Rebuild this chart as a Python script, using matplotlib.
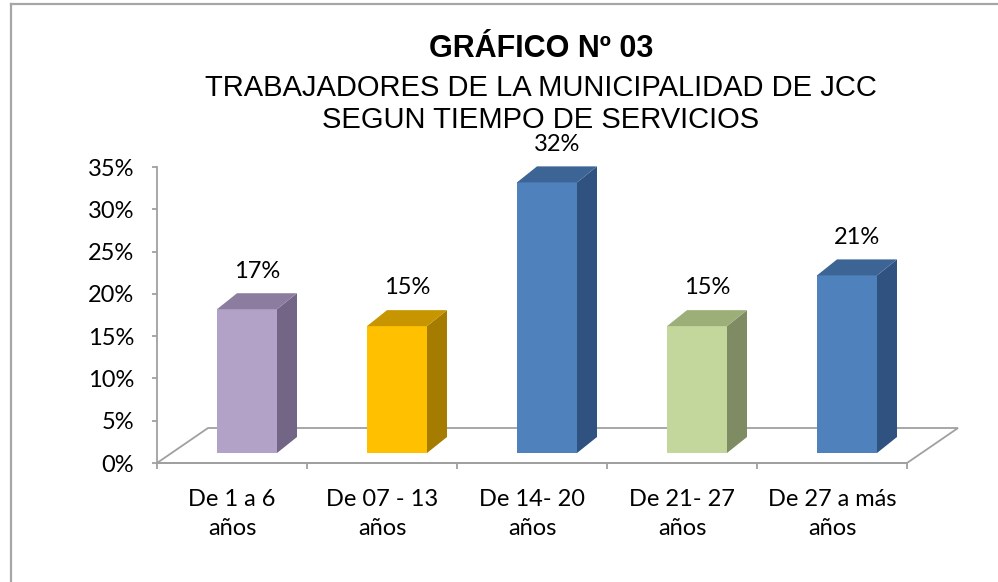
import matplotlib
matplotlib.use("Agg")
import matplotlib.pyplot as plt
from matplotlib.patches import Polygon
from matplotlib.lines import Line2D
from matplotlib.ticker import PercentFormatter, FixedLocator, NullFormatter

# datos del gráfico
categorias = ["De 1 a 6\naños", "De 07 - 13\naños", "De 14- 20\naños",
              "De 21- 27\naños", "De 27 a más\naños"]
valores = [0.17, 0.15, 0.32, 0.15, 0.21]
etiquetas = ["17%", "15%", "32%", "15%", "21%"]

# colores: cara frontal, lateral y superior
frente = ["#B3A2C7", "#FFC000", "#4F81BD", "#C3D69B", "#4F81BD"]
lateral = ["#726586", "#A67C00", "#2F5281", "#7F8C63", "#2F5281"]
superior = ["#8C7CA0", "#C69500", "#3C6595", "#9CAF78", "#3C6595"]

fuente = "Lato"
gris = "#A0A0A0"

fig = plt.figure(figsize=(9.98, 5.82), dpi=100)
ax = fig.add_axes([157 / 998, 1 - 463 / 582, 750 / 998, 296 / 582])
ax.set_xlim(-0.5, 4.5)
ax.set_ylim(0, 0.35)

# profundidad en unidades de datos
px_x = 5 / 750          # unidades x por pixel
px_y = 0.35 / 296       # unidades y por pixel
piso_dx, piso_dy = 51 * px_x, 35 * px_y
barra_dx, barra_dy = 20 * px_x, 16 * px_y
desp_x, desp_y = 15 * px_x, 10 * px_y
ancho = 60 * px_x

# piso
piso = Polygon([(-0.5, 0), (4.5, 0), (4.5 + piso_dx, piso_dy), (-0.5 + piso_dx, piso_dy)],
               closed=True, facecolor="none", edgecolor=gris, lw=1.3,
               clip_on=False, zorder=1)
ax.add_patch(piso)

# barras 3D
xs = [i + desp_x for i in range(len(valores))]
ax.bar(xs, valores, width=ancho, bottom=desp_y, color=frente, zorder=3, linewidth=0)
for i, v in enumerate(valores):
    x0 = xs[i] - ancho / 2
    x1 = xs[i] + ancho / 2
    y0 = desp_y
    y1 = desp_y + v
    ax.add_patch(Polygon([(x1, y0), (x1 + barra_dx, y0 + barra_dy),
                          (x1 + barra_dx, y1 + barra_dy), (x1, y1)],
                         closed=True, facecolor=lateral[i], lw=0, zorder=3, clip_on=False))
    ax.add_patch(Polygon([(x0, y1), (x1, y1), (x1 + barra_dx, y1 + barra_dy),
                          (x0 + barra_dx, y1 + barra_dy)],
                         closed=True, facecolor=superior[i], lw=0, zorder=3, clip_on=False))
    ax.annotate(etiquetas[i], (xs[i] + barra_dx / 2, y1 + barra_dy),
                xytext=(0, 16), textcoords="offset points", ha="center", va="center",
                fontsize=17, family=fuente, color="black", annotation_clip=False)

# ejes
for lado in ["top", "right"]:
    ax.spines[lado].set_visible(False)
ax.spines["left"].set_color(gris)
ax.spines["bottom"].set_color(gris)
ax.spines["left"].set_linewidth(1.3)
ax.spines["bottom"].set_linewidth(1.3)
ax.yaxis.set_major_formatter(PercentFormatter(xmax=1, decimals=0))
ax.set_yticks([0, 0.05, 0.10, 0.15, 0.20, 0.25, 0.30, 0.35])
ax.tick_params(axis="y", colors=gris, labelcolor="black", labelsize=17, length=3.6, width=1.3, pad=13)
for t in ax.get_yticklabels():
    t.set_family(fuente)

ax.xaxis.set_major_locator(FixedLocator([i - 0.5 for i in range(len(valores) + 1)]))
ax.xaxis.set_major_formatter(NullFormatter())
ax.xaxis.set_minor_locator(FixedLocator(list(range(len(valores)))))
ax.set_xticklabels(categorias, minor=True)
ax.tick_params(axis="x", which="major", colors=gris, length=4.3, width=1.3)
ax.tick_params(axis="x", which="minor", length=0, labelsize=17, pad=19, labelcolor="black")
for t in ax.get_xticklabels(minor=True):
    t.set_family(fuente)
    t.set_linespacing(1.45)

# título
fig.text(541 / 998, 1 - 49 / 582, "GRÁFICO Nº 03", ha="center", va="center",
         fontsize=22, fontweight="bold", family="Liberation Sans")
fig.text(541 / 998, 1 - 88 / 582, "TRABAJADORES DE LA MUNICIPALIDAD DE JCC", ha="center",
         va="center", fontsize=21, family="Liberation Sans")
fig.text(541 / 998, 1 - 120 / 582, "SEGUN TIEMPO DE SERVICIOS", ha="center",
         va="center", fontsize=21, family="Liberation Sans")

# marco
fig.add_artist(Line2D([11 / 998, 11 / 998], [0, 1 - 4 / 582], transform=fig.transFigure,
                      color="#A6A6A6", lw=1.6))
fig.add_artist(Line2D([11 / 998, 1], [1 - 4 / 582, 1 - 4 / 582], transform=fig.transFigure,
                      color="#A6A6A6", lw=1.6))

fig.savefig("out.png", dpi=100)
